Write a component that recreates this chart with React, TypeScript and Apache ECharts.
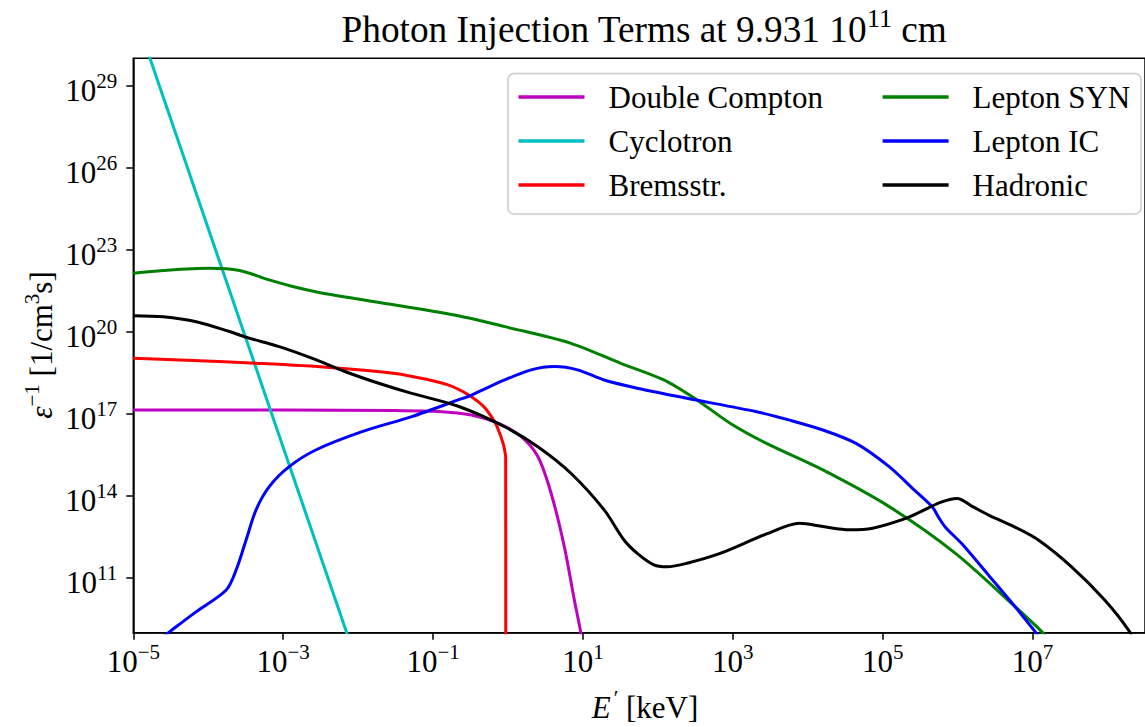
import React, { useEffect, useRef } from "react";
import * as echarts from "echarts";

const FONT = '"Liberation Serif", "Times New Roman", "DejaVu Serif", serif';

// All curves are stored as log10 values: photon energy E' in keV, rate in 1/(cm^3 s).
const doubleComptonLogE = [-5, -3, -1.5, -0.93, -0.488, -0.134, 0.176, 0.398, 0.575, 0.752, 0.885, 0.972, 1.01];
const doubleComptonLogRate = [17.14, 17.14, 17.12, 17.09, 16.96, 16.66, 16.17, 15.44, 14.1, 12.14, 10.2, 9.0, 8.3];

const cyclotronLogE = [-5, -2];
const cyclotronLogRate = [31.78, 7.78];

const bremsLogE = [-5, -4.2, -3.362, -2.39, -1.504, -1.062, -0.8, -0.664, -0.53, -0.399, -0.3, -0.222, -0.16, -0.111, -0.08, -0.054, -0.04, -0.031, -0.03];
const bremsLogRate = [19.03, 18.95, 18.85, 18.7, 18.48, 18.25, 18.06, 17.9, 17.7, 17.45, 17.2, 16.9, 16.62, 16.29, 16.05, 15.8, 15.6, 15.4, 5];

const synLogE = [-5, -4.602, -3.982, -3.584, -3.186, -2.832, -2.39, -1.504, -0.664, -0.044, 0.839, 1.503, 2.079, 2.521, 2.963, 3.45, 4.202, 5.086, 5.971, 6.767, 7.122, 7.3];
const synLogRate = [22.14, 22.24, 22.32, 22.24, 21.9, 21.63, 21.37, 20.98, 20.59, 20.19, 19.58, 18.85, 18.24, 17.51, 16.66, 15.92, 14.95, 13.61, 11.9, 9.95, 9.04, 8.5];

const icLogE = [-4.7, -4.513, -4.159, -3.76, -3.628, -3.495, -3.362, -3.186, -2.92, -2.566, -1.948, -1.284, -0.664, -0.488, -0.044, 0.309, 0.619, 0.928, 1.283, 1.725, 2.388, 3.317, 3.759, 4.202, 4.644, 5.086, 5.397, 5.662, 5.75, 5.839, 6.06, 6.413, 6.767, 7.033, 7.15];
const icLogRate = [8.65, 9.04, 9.77, 10.56, 11.29, 12.39, 13.49, 14.34, 15.07, 15.68, 16.35, 16.9, 17.51, 17.69, 18.24, 18.61, 18.73, 18.61, 18.24, 17.94, 17.57, 17.08, 16.77, 16.41, 15.92, 15.07, 14.28, 13.6, 13.2, 12.85, 12.24, 11.1, 9.95, 9.04, 8.6];

const hadronicLogE = [-5, -4.602, -4.159, -3.717, -3.495, -3.053, -2.611, -2.168, -1.726, -1.284, -0.664, -0.044, 0.398, 0.839, 1.283, 1.548, 1.725, 1.946, 2.123, 2.388, 2.83, 3.45, 3.892, 4.202, 4.555, 4.866, 5.308, 5.994, 6.2, 6.413, 6.75, 7.077, 7.52, 7.962, 8.294, 8.35];
const hadronicLogRate = [20.59, 20.55, 20.37, 20.01, 19.8, 19.46, 19.03, 18.54, 18.12, 17.75, 17.28, 16.53, 15.8, 14.83, 13.49, 12.39, 11.9, 11.48, 11.41, 11.54, 11.9, 12.61, 13.0, 12.88, 12.76, 12.82, 13.18, 13.91, 13.61, 13.3, 12.88, 12.39, 11.41, 10.2, 9.04, 8.6];

const seriesNames = ["Double Compton", "Cyclotron", "Bremsstr.", "Lepton SYN", "Lepton IC", "Hadronic"];
const seriesColors = ["#bf00bf", "#00bfbf", "#ff0000", "#008000", "#0000ff", "#000000"];

const xTickExponents = [-5, -3, -1, 1, 3, 5, 7];
const yTickExponents = [11, 14, 17, 20, 23, 26, 29];
const xRange = [-5, 8.5];
const yRange = [9, 30];

const curves: [number[], number[]][] = [
  [doubleComptonLogE, doubleComptonLogRate],
  [cyclotronLogE, cyclotronLogRate],
  [bremsLogE, bremsLogRate],
  [synLogE, synLogRate],
  [icLogE, icLogRate],
  [hadronicLogE, hadronicLogRate],
];

const supText = (v: number) => (v < 0 ? "\u2212" + Math.abs(v) : String(v));

const powerLabel = (ticks: number[]) => (v: number) => {
  const r = Math.round(v);
  if (Math.abs(v - r) > 1e-6 || !ticks.includes(r)) return "";
  return `{b|10}{s|${supText(r)}}`;
};

const tickRich = {
  b: { fontFamily: FONT, fontSize: 31, lineHeight: 31, padding: [10, 0, 0, 0], color: "#000" },
  s: { fontFamily: FONT, fontSize: 21, lineHeight: 21, verticalAlign: "top", color: "#000" },
};

const axisColor = "#000";

function buildOption() {
  return {
    animation: false,
    backgroundColor: "#ffffff",
    grid: {
      left: 133.3,
      top: 58.3,
      width: 1017,
      height: 574.4,
      show: true,
      borderColor: axisColor,
      borderWidth: 1.5,
      backgroundColor: "transparent",
      containLabel: false,
    },
    xAxis: {
      type: "value",
      min: xRange[0],
      max: xRange[1],
      axisLine: { show: true, onZero: false, lineStyle: { color: axisColor, width: 1.5 } },
      axisTick: { show: true, length: 7, customValues: xTickExponents, lineStyle: { color: axisColor, width: 1.5 } },
      axisLabel: {
        customValues: xTickExponents,
        formatter: powerLabel(xTickExponents),
        margin: 8.5,
        rich: tickRich,
      },
      splitLine: { show: false },
    },
    yAxis: {
      type: "value",
      min: yRange[0],
      max: yRange[1],
      axisLine: { show: true, onZero: false, lineStyle: { color: axisColor, width: 1.5 } },
      axisTick: { show: true, length: 7, customValues: yTickExponents, lineStyle: { color: axisColor, width: 1.5 } },
      axisLabel: {
        customValues: yTickExponents,
        formatter: powerLabel(yTickExponents),
        margin: 16,
        rich: tickRich,
      },
      splitLine: { show: false },
    },
    legend: [
      {
        data: seriesNames.slice(0, 3),
        orient: "vertical",
        left: 518.5,
        top: 81.5,
        padding: 0,
        itemWidth: 66,
        itemHeight: 3.5,
        itemGap: 13,
        icon: "rect",
        selectedMode: false,
        textStyle: { fontFamily: FONT, fontSize: 31, lineHeight: 31, color: "#000", padding: [0, 0, 0, 19] },
      },
      {
        data: seriesNames.slice(3),
        orient: "vertical",
        left: 882.6,
        top: 81.5,
        padding: 0,
        itemWidth: 66,
        itemHeight: 3.5,
        itemGap: 13,
        icon: "rect",
        selectedMode: false,
        textStyle: { fontFamily: FONT, fontSize: 31, lineHeight: 31, color: "#000", padding: [0, 0, 0, 19] },
      },
    ],
    graphic: [
      {
        type: "rect",
        z: 3,
        shape: { x: 508, y: 73.5, width: 633, height: 140.5, r: 6 },
        style: { fill: "rgba(255,255,255,0.8)", stroke: "#cccccc", lineWidth: 1.5 },
      },
      {
        type: "text",
        x: 644,
        y: 5,
        style: {
          text: "{a|Photon Injection Terms at 9.931 10}{s|11}{a| cm}",
          align: "center",
          verticalAlign: "top",
          fill: "#000",
          fontFamily: FONT,
          rich: {
            a: { fontFamily: FONT, fontSize: 37.3, lineHeight: 37, padding: [12, 0, 0, 0], fill: "#000" },
            s: { fontFamily: FONT, fontSize: 26, lineHeight: 26, verticalAlign: "top", fill: "#000" },
          },
        },
      },
      {
        type: "text",
        x: 645,
        y: 687,
        style: {
          text: "{i|E}{s|\u2032}{a| [keV]}",
          align: "center",
          verticalAlign: "top",
          fill: "#000",
          fontFamily: FONT,
          rich: {
            i: { fontFamily: FONT, fontStyle: "italic", fontSize: 31, lineHeight: 31, padding: [10, 0, 0, 0], fill: "#000" },
            s: { fontFamily: FONT, fontSize: 21, lineHeight: 21, verticalAlign: "top", padding: [0, 0, 0, 3], fill: "#000" },
            a: { fontFamily: FONT, fontSize: 31, lineHeight: 31, padding: [10, 0, 0, 0], fill: "#000" },
          },
        },
      },
      {
        type: "text",
        x: 36.5,
        y: 345,
        rotation: Math.PI / 2,
        style: {
          text: "{i|\u03b5}{s|\u22121}{a| [1/cm}{s|3}{a|s]}",
          align: "center",
          verticalAlign: "middle",
          fill: "#000",
          fontFamily: FONT,
          rich: {
            i: { fontFamily: FONT, fontStyle: "italic", fontSize: 31, lineHeight: 31, padding: [10, 0, 0, 0], fill: "#000" },
            s: { fontFamily: FONT, fontSize: 21, lineHeight: 21, verticalAlign: "top", fill: "#000" },
            a: { fontFamily: FONT, fontSize: 31, lineHeight: 31, padding: [10, 0, 0, 0], fill: "#000" },
          },
        },
      },
    ],
    series: curves.map(([xs, ys], i) => ({
      name: seriesNames[i],
      type: "line",
      color: seriesColors[i],
      data: xs.map((x, k) => [x, ys[k]]),
      showSymbol: false,
      symbol: "none",
      smooth: i === 1 ? false : 0.3,
      clip: true,
      lineStyle: { width: 3, color: seriesColors[i] },
      emphasis: { disabled: true },
    })),
  };
}

export default function App() {
  const ref = useRef<HTMLDivElement>(null);
  useEffect(() => {
    if (!ref.current) return;
    const chart = echarts.init(ref.current, undefined, { renderer: "svg" });
    chart.setOption(buildOption() as any);
    return () => chart.dispose();
  }, []);
  return (
    <div
      ref={ref}
      style={{ position: "absolute", left: 0, top: 0, width: 1145, height: 727, background: "#fff" }}
    />
  );
}
